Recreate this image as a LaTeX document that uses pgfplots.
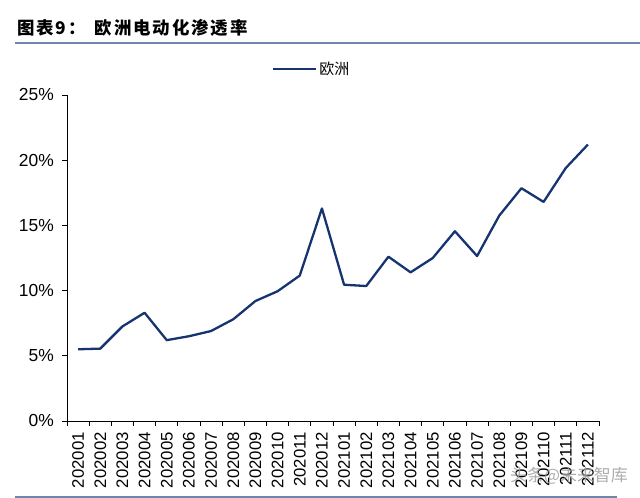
\documentclass[border=0pt]{standalone}
\usepackage{fontspec}
\setmainfont{Liberation Sans}
\newfontfamily\cjk{Noto Sans CJK SC}
\usepackage{pgfplots}
\pgfplotsset{compat=1.18}

\definecolor{navy}{RGB}{22,52,112}
\definecolor{rule}{RGB}{110,135,170}

\begin{document}
\begin{tikzpicture}[x=1bp,y=1bp]
\path[use as bounding box] (0,0) rectangle (640,498);

% title and rules
\node[anchor=west,inner sep=0,font=\cjk\bfseries\fontsize{17.5}{19}\selectfont\addfontfeature{LetterSpace=11}] at (17,470) {图表9：\hspace{9bp}欧洲电动化渗透率};
\draw[rule,line width=1.2bp] (15,455) -- (640,455);
\draw[rule,line width=1.2bp] (15,1) -- (617,1);

\begin{axis}[
    at={(67bp,77bp)}, anchor=south west,
    scale only axis, width=532bp, height=326bp,
    xmin=-0.5, xmax=23.5,
    ymin=0, ymax=25,
    axis x line*=bottom, axis y line*=left,
    axis line style={line width=0.8bp, black},
    tick align=outside,
    major tick length=5bp,
    tick style={line width=0.8bp, black},
    xtick={-0.5,0.5,...,23.5},
    x tick label as interval,
    xticklabels={202001,202002,202003,202004,202005,202006,202007,202008,202009,202010,202011,202012,
                 202101,202102,202103,202104,202105,202106,202107,202108,202109,202110,202111,202112},
    xticklabel style={rotate=90, anchor=east, font=\fontsize{16.8}{18}\selectfont, inner xsep=6bp},
    ytick={0,5,10,15,20,25},
    yticklabels={0\%,5\%,10\%,15\%,20\%,25\%},
    yticklabel style={font=\fontsize{17.5}{19}\selectfont, inner xsep=8bp},
    legend style={at={(0.46,1.08)}, anchor=center, draw=none, fill=none,
                  font=\cjk\fontsize{15}{17}\selectfont},
    legend image code/.code={\draw[#1] (0bp,0bp) -- (43bp,0bp);},
    clip=false,
]
\addplot[navy, line width=2.3bp, line join=round] coordinates {
    (0,5.5) (1,5.55) (2,7.25) (3,8.3) (4,6.2) (5,6.5) (6,6.9) (7,7.8)
    (8,9.2) (9,9.95) (10,11.15) (11,16.3) (12,10.45) (13,10.35) (14,12.6) (15,11.4)
    (16,12.5) (17,14.55) (18,12.65) (19,15.75) (20,17.85) (21,16.8) (22,19.4) (23,21.2)
};
\addlegendentry{欧洲}
\end{axis}

% watermark
\node[anchor=west,inner sep=0,text=gray!75,opacity=0.85,font=\cjk\fontsize{17}{19}\selectfont] at (510,22) {头条@未来智库};
\end{tikzpicture}
\end{document}
